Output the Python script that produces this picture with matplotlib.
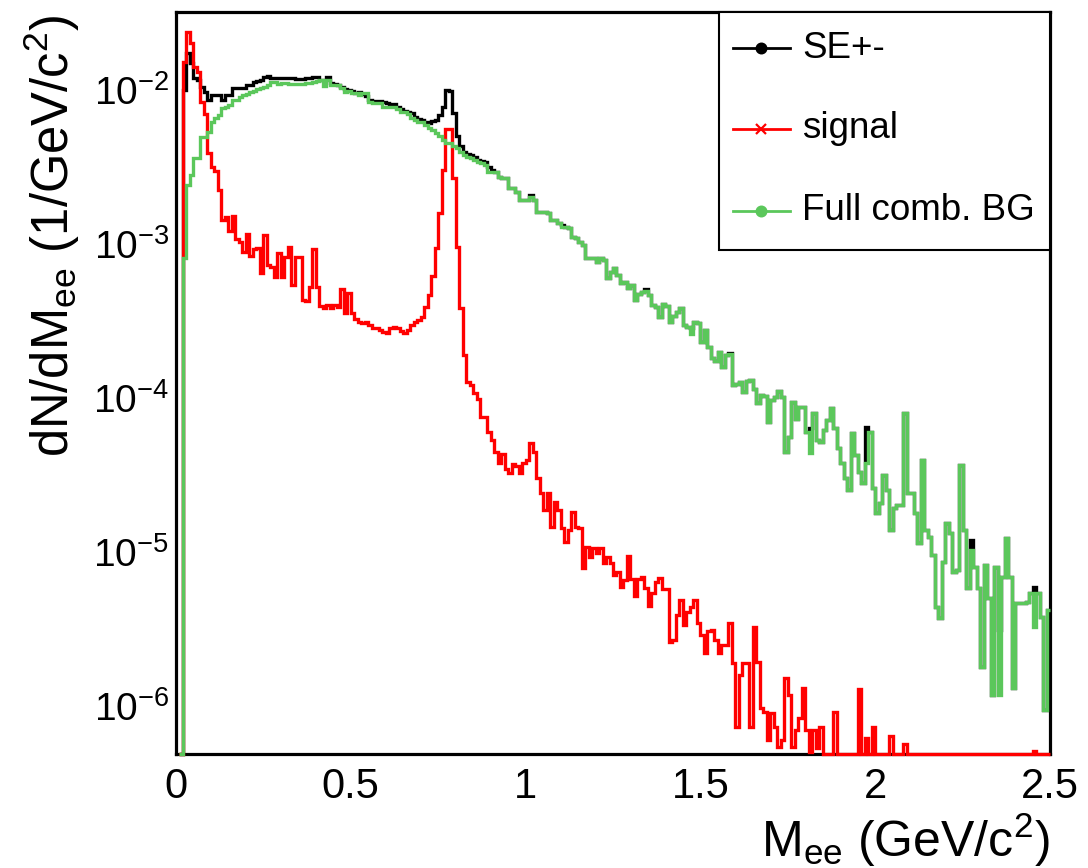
import numpy as np
import matplotlib
matplotlib.use("Agg")
import matplotlib.pyplot as plt
from matplotlib.lines import Line2D
from matplotlib.patches import Rectangle
from matplotlib.ticker import FixedLocator, FuncFormatter, LogLocator, NullLocator

plt.rcParams['font.family'] = ['Liberation Sans', 'DejaVu Sans']
plt.rcParams['mathtext.fontset'] = 'custom'
plt.rcParams['mathtext.rm'] = 'Liberation Sans'
plt.rcParams['mathtext.it'] = 'Liberation Sans:italic'
plt.rcParams['mathtext.bf'] = 'Liberation Sans:bold'
plt.rcParams['mathtext.sf'] = 'Liberation Sans'
plt.rcParams['mathtext.default'] = 'regular'

# 250 mass bins of 10 MeV/c^2 between 0 and 2.5 GeV/c^2
mass_edges = np.linspace(0.0, 2.5, 251)

# same-event unlike-sign pairs
se_pm = np.array([
    0, 0, 1.00e-2, 1.739e-2, 1.497e-2, 1.196e-2, 1.161e-2, 1.046e-2, 9.71e-3, 8.61e-3,
    9.28e-3, 9.28e-3, 9.28e-3, 8.61e-3, 9.28e-3, 9.28e-3, 1.030e-2, 1.030e-2, 1.030e-2, 1.030e-2,
    1.078e-2, 1.078e-2, 1.127e-2, 1.144e-2, 1.161e-2, 1.214e-2, 1.233e-2, 1.196e-2, 1.196e-2, 1.196e-2,
    1.196e-2, 1.196e-2, 1.196e-2, 1.196e-2, 1.178e-2, 1.178e-2, 1.178e-2, 1.196e-2, 1.196e-2, 1.214e-2,
    1.214e-2, 1.161e-2, 1.161e-2, 1.214e-2, 1.110e-2, 1.094e-2, 1.078e-2, 1.046e-2, 1.015e-2, 1.00e-2,
    9.85e-3, 9.56e-3, 9.71e-3, 9.42e-3, 9.14e-3, 8.61e-3, 8.49e-3, 8.49e-3, 8.49e-3, 8.36e-3,
    8.23e-3, 8.11e-3, 8.11e-3, 7.76e-3, 7.53e-3, 7.31e-3, 7.20e-3, 7.09e-3, 6.68e-3, 6.48e-3,
    6.39e-3, 6.20e-3, 6.11e-3, 6.29e-3, 6.39e-3, 6.88e-3, 7.76e-3, 1.00e-2, 9.85e-3, 7.09e-3,
    5.03e-3, 4.33e-3, 3.96e-3, 3.84e-3, 3.78e-3, 3.67e-3, 3.51e-3, 3.46e-3, 3.41e-3, 3.16e-3,
    3.02e-3, 2.94e-3, 2.72e-3, 2.68e-3, 2.68e-3, 2.31e-3, 2.31e-3, 2.18e-3, 1.93e-3, 1.93e-3,
    1.93e-3, 2.08e-3, 1.93e-3, 1.61e-3, 1.61e-3, 1.61e-3, 1.59e-3, 1.43e-3, 1.43e-3, 1.37e-3,
    1.33e-3, 1.29e-3, 1.27e-3, 1.11e-3, 1.09e-3, 1.03e-3, 9.85e-4, 8.11e-4, 8.11e-4, 8.11e-4,
    7.64e-4, 8.11e-4, 7.87e-4, 6.02e-4, 6.58e-4, 6.99e-4, 6.29e-4, 5.58e-4, 5.67e-4, 5.18e-4,
    5.42e-4, 4.33e-4, 4.74e-4, 4.88e-4, 5.10e-4, 4.67e-4, 4.02e-4, 3.90e-4, 3.36e-4, 4.08e-4,
    3.96e-4, 3.12e-4, 3.41e-4, 3.62e-4, 3.84e-4, 2.98e-4, 2.89e-4, 2.85e-4, 3.12e-4, 3.07e-4,
    2.31e-4, 2.76e-4, 2.14e-4, 1.82e-4, 1.74e-4, 1.99e-4, 1.59e-4, 1.90e-4, 1.95e-4, 1.21e-4,
    1.23e-4, 1.27e-4, 1.09e-4, 1.29e-4, 1.31e-4, 1.14e-4, 9.28e-5, 1.05e-4, 1.03e-4, 6.99e-5,
    9.71e-5, 1.015e-4, 1.11e-4, 1.015e-4, 4.46e-5, 5.58e-5, 9.42e-5, 7.31e-5, 8.74e-5, 8.74e-5,
    6.02e-5, 6.39e-5, 7.99e-5, 5.34e-5, 5.18e-5, 6.20e-5, 7.20e-5, 8.61e-5, 6.39e-5, 4.74e-5,
    3.78e-5, 3.02e-5, 2.53e-5, 5.93e-5, 4.26e-5, 3.31e-5, 2.81e-5, 6.48e-5, 6.02e-5, 2.60e-5,
    1.79e-5, 2.08e-5, 3.16e-5, 2.53e-5, 1.39e-5, 1.93e-5, 2.02e-5, 2.02e-5, 7.99e-5, 2.42e-5,
    2.42e-5, 1.79e-5, 1.14e-5, 3.96e-5, 1.39e-5, 1.25e-5, 9.56e-6, 4.39e-6, 3.73e-6, 8.61e-6,
    1.54e-5, 1.33e-5, 7.42e-6, 7.64e-6, 3.67e-5, 1.39e-5, 5.84e-6, 1.20e-5, 7.99e-6, 5.84e-6,
    1.79e-6, 8.23e-6, 5.03e-6, 1.18e-6, 7.99e-6, 3.12e-6, 6.88e-6, 1.23e-5, 6.88e-6, 1.31e-6,
    4.67e-6, 4.67e-6, 4.67e-6, 4.74e-6, 5.42e-6, 5.93e-6, 5.42e-6, 3.78e-6, 9.42e-7, 4.20e-6,
])

# background-subtracted signal
signal = np.array([
    0, 0, 1.52e-2, 2.38e-2, 2.02e-2, 1.41e-2, 1.31e-2, 8.36e-3, 6.99e-3, 3.90e-3,
    3.16e-3, 2.98e-3, 2.24e-3, 1.43e-3, 1.50e-3, 1.21e-3, 1.52e-3, 1.08e-3, 1.03e-3, 8.87e-4,
    1.16e-3, 8.36e-4, 9.28e-4, 9.42e-4, 6.48e-4, 1.14e-3, 7.31e-4, 7.09e-4, 6.11e-4, 8.74e-4,
    6.11e-4, 8.23e-4, 9.56e-4, 5.42e-4, 8.23e-4, 8.23e-4, 4.33e-4, 4.27e-4, 5.26e-4, 9.28e-4,
    5.26e-4, 3.96e-4, 3.84e-4, 4.02e-4, 3.84e-4, 4.02e-4, 3.90e-4, 5.10e-4, 3.56e-4, 4.81e-4,
    3.56e-4, 3.26e-4, 3.12e-4, 3.07e-4, 3.12e-4, 2.98e-4, 2.85e-4, 2.85e-4, 2.76e-4, 2.68e-4,
    2.64e-4, 2.85e-4, 2.89e-4, 2.85e-4, 2.72e-4, 2.64e-4, 2.76e-4, 2.98e-4, 3.12e-4, 3.21e-4,
    3.36e-4, 3.90e-4, 4.67e-4, 6.20e-4, 9.42e-4, 1.59e-3, 3.02e-3, 5.58e-3, 5.58e-3, 2.68e-3,
    9.56e-4, 3.84e-4, 1.90e-4, 1.27e-4, 1.21e-4, 1.08e-4, 9.85e-5, 7.53e-5, 7.53e-5, 6.02e-5,
    5.34e-5, 4.46e-5, 3.78e-5, 4.33e-5, 3.46e-5, 3.26e-5, 3.73e-5, 3.62e-5, 3.26e-5, 3.78e-5,
    3.96e-5, 5.10e-5, 4.46e-5, 3.02e-5, 2.42e-5, 1.87e-5, 2.42e-5, 1.45e-5, 2.11e-5, 1.87e-5,
    1.43e-5, 1.16e-5, 1.39e-5, 1.82e-5, 1.45e-5, 1.43e-5, 7.87e-6, 1.08e-5, 9.28e-6, 1.06e-5,
    9.85e-6, 1.06e-5, 8.49e-6, 9.28e-6, 8.49e-6, 7.09e-6, 7.42e-6, 5.93e-6, 6.58e-6, 9.42e-6,
    6.68e-6, 5.18e-6, 6.68e-6, 6.88e-6, 5.84e-6, 4.46e-6, 5.42e-6, 6.39e-6, 6.78e-6, 5.75e-6,
    5.75e-6, 2.60e-6, 2.68e-6, 3.90e-6, 4.88e-6, 3.36e-6, 4.08e-6, 4.39e-6, 4.88e-6, 3.46e-6,
    2.89e-6, 2.21e-6, 3.07e-6, 3.12e-6, 2.68e-6, 2.21e-6, 2.49e-6, 2.49e-6, 3.46e-6, 1.90e-6,
    7.31e-7, 1.59e-6, 1.90e-6, 1.90e-6, 7.31e-7, 3.26e-6, 1.93e-6, 9.71e-7, 9.14e-7, 6.02e-7,
    9.01e-7, 7.31e-7, 5.42e-7, 6.02e-7, 1.52e-6, 1.18e-6, 5.42e-7, 6.99e-7, 8.36e-7, 1.31e-6,
    6.99e-7, 5.00e-7, 6.99e-7, 5.34e-7, 7.31e-7, 0, 0, 0, 9.14e-7, 0,
    0, 0, 0, 0, 0, 1.29e-6, 0, 6.20e-7, 0, 7.31e-7,
    0, 0, 0, 0, 6.39e-7, 0, 0, 0, 5.67e-7, 0,
    0, 0, 0, 0, 0, 0, 0, 0, 0, 0,
    0, 0, 0, 0, 0, 0, 0, 0, 0, 0,
    0, 0, 0, 0, 0, 0, 0, 0, 0, 0,
    0, 0, 0, 0, 0, 5.10e-7, 0, 0, 0, 0,
])

# full combinatorial background
comb_bg = np.array([
    0, 0, 8.11e-4, 2.42e-3, 2.81e-3, 3.62e-3, 3.62e-3, 4.95e-3, 4.95e-3, 5.34e-3,
    6.20e-3, 6.58e-3, 6.88e-3, 7.64e-3, 7.76e-3, 7.99e-3, 8.61e-3, 8.61e-3, 9.01e-3, 9.28e-3,
    9.42e-3, 9.71e-3, 9.85e-3, 1.015e-2, 1.030e-2, 1.046e-2, 1.078e-2, 1.127e-2, 1.127e-2, 1.094e-2,
    1.110e-2, 1.110e-2, 1.094e-2, 1.094e-2, 1.094e-2, 1.094e-2, 1.094e-2, 1.110e-2, 1.110e-2, 1.127e-2,
    1.144e-2, 1.161e-2, 1.062e-2, 1.161e-2, 1.078e-2, 1.078e-2, 1.078e-2, 1.030e-2, 9.71e-3, 9.85e-3,
    9.56e-3, 9.56e-3, 9.28e-3, 9.56e-3, 9.56e-3, 8.36e-3, 8.23e-3, 8.23e-3, 8.23e-3, 7.76e-3,
    7.76e-3, 7.76e-3, 7.76e-3, 7.53e-3, 7.20e-3, 7.20e-3, 6.99e-3, 6.58e-3, 6.39e-3, 6.20e-3,
    6.20e-3, 5.93e-3, 5.67e-3, 5.50e-3, 5.26e-3, 5.03e-3, 4.74e-3, 4.53e-3, 4.53e-3, 4.33e-3,
    4.20e-3, 3.96e-3, 3.78e-3, 3.67e-3, 3.62e-3, 3.51e-3, 3.41e-3, 3.36e-3, 3.26e-3, 2.94e-3,
    2.94e-3, 2.94e-3, 2.72e-3, 2.68e-3, 2.68e-3, 2.31e-3, 2.31e-3, 2.18e-3, 1.93e-3, 1.93e-3,
    1.93e-3, 2.02e-3, 1.93e-3, 1.61e-3, 1.61e-3, 1.61e-3, 1.59e-3, 1.43e-3, 1.43e-3, 1.37e-3,
    1.29e-3, 1.29e-3, 1.27e-3, 1.11e-3, 1.09e-3, 1.03e-3, 9.85e-4, 8.11e-4, 8.11e-4, 8.11e-4,
    7.64e-4, 8.11e-4, 7.87e-4, 6.02e-4, 6.58e-4, 6.99e-4, 6.29e-4, 5.58e-4, 5.67e-4, 5.18e-4,
    5.42e-4, 4.33e-4, 4.74e-4, 4.88e-4, 4.95e-4, 4.67e-4, 4.02e-4, 3.90e-4, 3.36e-4, 4.08e-4,
    3.96e-4, 3.12e-4, 3.41e-4, 3.62e-4, 3.84e-4, 2.98e-4, 2.89e-4, 2.60e-4, 3.12e-4, 3.07e-4,
    2.31e-4, 2.76e-4, 2.14e-4, 1.82e-4, 1.74e-4, 1.99e-4, 1.59e-4, 1.90e-4, 1.93e-4, 1.21e-4,
    1.23e-4, 1.27e-4, 1.09e-4, 1.29e-4, 1.31e-4, 1.14e-4, 9.28e-5, 1.05e-4, 1.03e-4, 6.99e-5,
    9.71e-5, 1.015e-4, 1.11e-4, 1.015e-4, 4.46e-5, 5.58e-5, 9.42e-5, 7.31e-5, 8.74e-5, 8.74e-5,
    6.02e-5, 4.39e-5, 7.99e-5, 5.34e-5, 5.18e-5, 6.20e-5, 7.20e-5, 8.61e-5, 6.39e-5, 4.74e-5,
    3.78e-5, 3.02e-5, 2.53e-5, 5.93e-5, 4.26e-5, 3.31e-5, 2.81e-5, 3.78e-5, 6.02e-5, 2.60e-5,
    1.79e-5, 2.08e-5, 3.16e-5, 2.53e-5, 1.39e-5, 1.93e-5, 2.02e-5, 2.02e-5, 7.99e-5, 2.42e-5,
    2.42e-5, 1.79e-5, 1.14e-5, 3.96e-5, 1.39e-5, 1.25e-5, 9.56e-6, 4.39e-6, 3.73e-6, 8.61e-6,
    1.54e-5, 1.33e-5, 7.42e-6, 7.64e-6, 3.67e-5, 1.39e-5, 5.84e-6, 1.03e-5, 7.99e-6, 5.84e-6,
    1.79e-6, 8.23e-6, 5.03e-6, 1.18e-6, 7.99e-6, 1.18e-6, 6.88e-6, 1.23e-5, 6.88e-6, 1.31e-6,
    4.67e-6, 4.67e-6, 4.67e-6, 4.74e-6, 5.42e-6, 3.26e-6, 5.42e-6, 3.78e-6, 9.42e-7, 4.20e-6,
])

series_labels = ["SE+-", "signal", "Full comb. BG"]
x_tick_values = [0, 0.5, 1, 1.5, 2, 2.5]

Y_MIN, Y_MAX = 4.88e-7, 3.21e-2
BG_GREEN = "#5bc75b"
LINE_W = 2.4

W, H = 1088, 868
fig = plt.figure(figsize=(W / 100, H / 100), dpi=100)
ax = fig.add_axes([176 / W, 1 - 754 / H, (1050 - 176) / W, (754 - 12) / H])
ax.set_yscale("log")
ax.set_xlim(0.0, 2.5)
ax.set_ylim(Y_MIN, Y_MAX)


def draw_hist(values, color, z):
    # empty bins sit on the lower edge of the log axis
    first = max(int(np.argmax(values > 0)) - 1, 0)
    shown = np.where(values > 0, values, Y_MIN)[first:]
    ax.stairs(shown, mass_edges[first:], baseline=None, color=color,
              lw=LINE_W, clip_on=False, zorder=z)


draw_hist(se_pm, "black", 3)
draw_hist(signal, "red", 4)
draw_hist(comb_bg, BG_GREEN, 5)

for s in ax.spines.values():
    s.set_linewidth(2.3)

ax.xaxis.set_major_locator(FixedLocator(x_tick_values))
ax.xaxis.set_major_formatter(FuncFormatter(lambda v, p: f"{v:g}"))
ax.xaxis.set_minor_locator(NullLocator())
ax.yaxis.set_major_locator(LogLocator(base=10, numticks=20))
ax.yaxis.set_minor_locator(NullLocator())
ax.tick_params(axis="x", length=0, pad=9, labelsize=30)
ax.tick_params(axis="y", length=0, pad=5, labelsize=28)

fig.text(1050 / W, 1 - 857 / H, r"M$_{ee}$ (GeV/c$^{2}$)", ha="right",
         va="baseline", fontsize=36)
fig.text(52 / W, 1 - 14 / H, r"dN/dM$_{ee}$ (1/GeV/c$^{2}$)", ha="center",
         va="top", rotation=90, fontsize=36.5)

# legend box in the upper right corner of the frame
lx0, lx1, ly0, ly1 = 719, 1050, 12, 250
fig.add_artist(Rectangle((lx0 / W, 1 - ly1 / H), (lx1 - lx0) / W, (ly1 - ly0) / H,
                         transform=fig.transFigure, facecolor="white",
                         edgecolor="black", lw=1.5, zorder=6))
rows = [48, 129, 211]
styles = [("black", "o"), ("red", "x"), (BG_GREEN, "o")]
for yrow, (col, mk), lab in zip(rows, styles, series_labels):
    yf = 1 - yrow / H
    fig.add_artist(Line2D([733 / W, 790 / W], [yf, yf], transform=fig.transFigure,
                          color=col, lw=2.0, zorder=7))
    fig.add_artist(Line2D([761 / W], [yf], transform=fig.transFigure, color=col,
                          marker=mk, markersize=7, markeredgewidth=1.6, zorder=8))
    fig.text(802 / W, yf, lab, ha="left", va="center", fontsize=26.5, zorder=8)

fig.savefig("out.png", dpi=100)
